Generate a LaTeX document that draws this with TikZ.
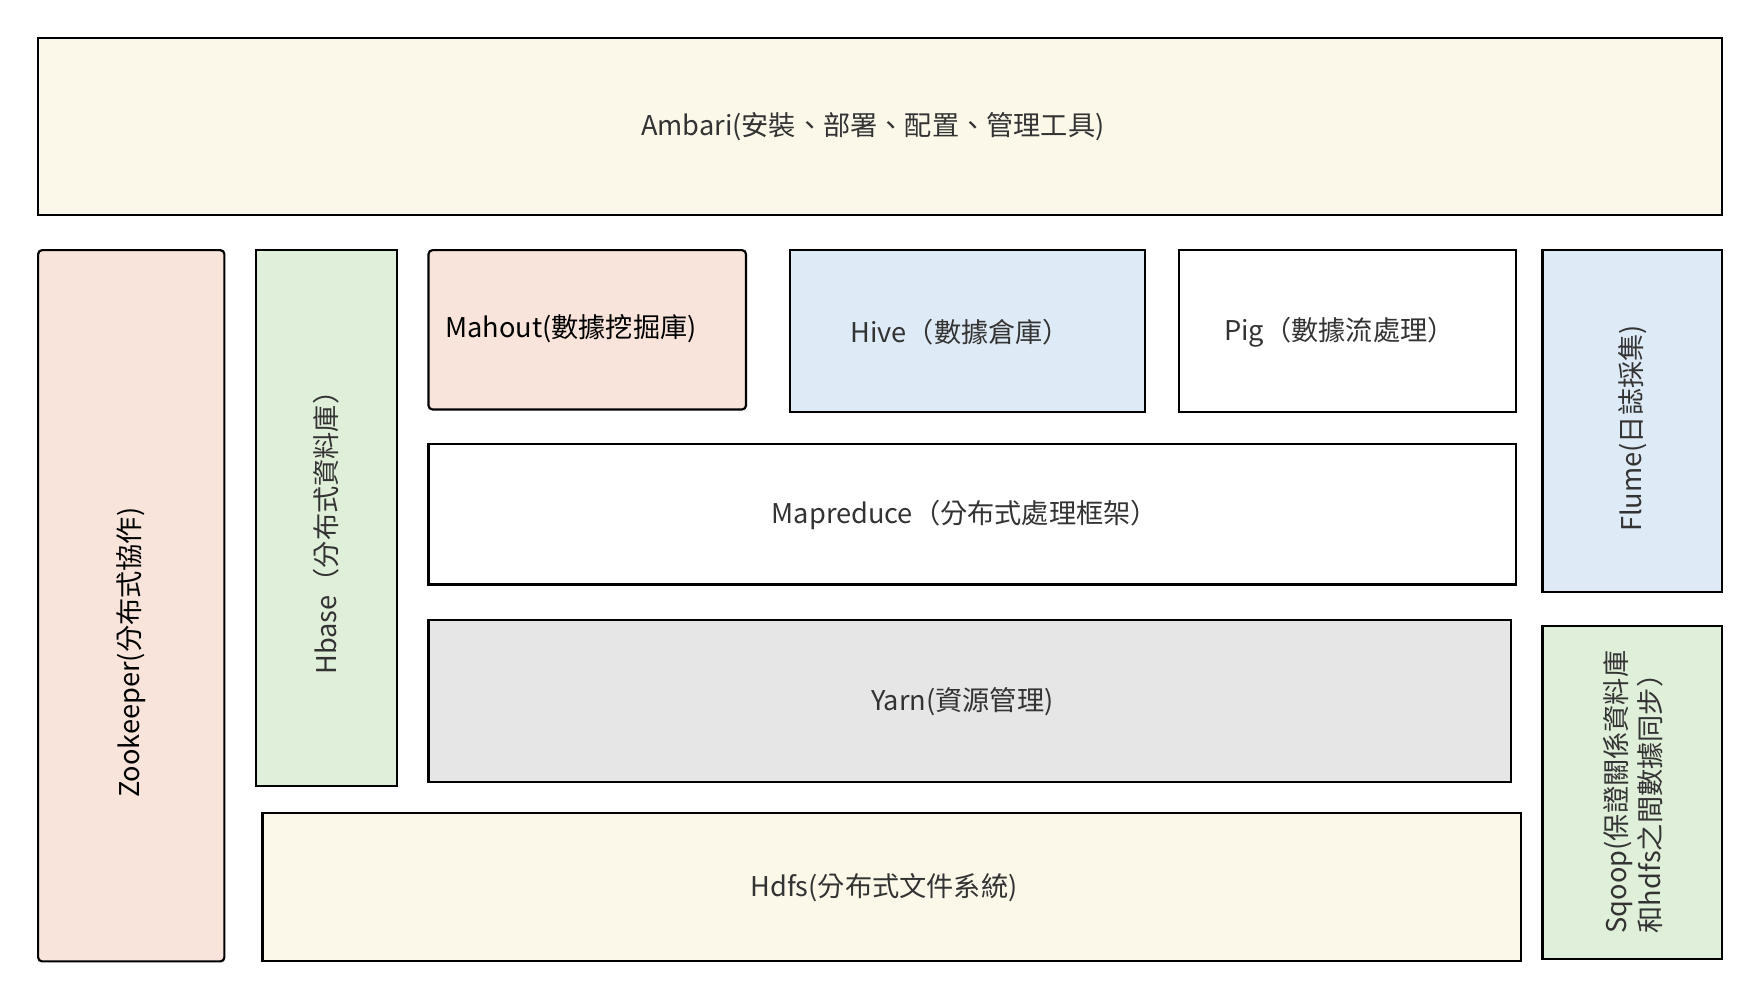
\documentclass[tikz,border=0pt]{standalone}
\usepackage{fontspec}
\setmainfont{Noto Sans CJK TC}
\definecolor{cream}{HTML}{FBF8EA}
\definecolor{peach}{HTML}{F8E4DA}
\definecolor{mint}{HTML}{E0EFDA}
\definecolor{skyb}{HTML}{DEEAF5}
\definecolor{greyb}{HTML}{E6E6E6}
\definecolor{txt}{HTML}{333333}
\tikzset{
  box/.style={draw=black, line width=1.1pt, anchor=north west, inner sep=0pt, outer sep=0pt},
  lbl/.style={text=txt, font=\fontsize{13.8pt}{16pt}\selectfont, inner sep=0pt},
  lblk/.style={text=black, font=\fontsize{13.8pt}{16pt}\selectfont, inner sep=0pt},
}
\newcommand{\bx}[7]{% name, x1, y1, x2, y2, fill, extra
  \node[box, fill=#6, minimum width=(#4-#2)*0.02cm, minimum height=(#5-#3)*0.02cm, #7] (#1) at (#2,#3) {};}
\begin{document}
\begin{tikzpicture}[x=0.02cm,y=-0.02cm]
\useasboundingbox[fill=white] (0,0) rectangle (1568,891);
\bx{ambari}{34}{34}{1535}{192}{cream}{}
\bx{zoo}{34}{223}{200}{857}{peach}{rounded corners=2pt}
\bx{hbase}{228}{223}{354}{701}{mint}{}
\bx{mahout}{382}{223}{665}{365}{peach}{rounded corners=2pt}
\bx{hive}{704}{223}{1021}{367}{skyb}{}
\bx{pig}{1051}{223}{1351}{367}{white}{}
\bx{flume}{1375}{223}{1535}{528}{skyb}{}
\bx{mapr}{382}{396}{1351}{521}{white}{}
\bx{yarn}{382}{553}{1347}{697}{greyb}{}
\bx{hdfs}{234}{725}{1356}{857}{cream}{}
\bx{sqoop}{1375}{558}{1535}{855}{mint}{}
\node[lbl] (tambari) at (778,113) {Ambari(安裝、部署、配置、管理工具)};
\node[lblk, rotate=90] (tzoo) at (117,582) {Zookeeper(分布式協作)};
\node[lbl, rotate=90] (thbase) at (291,469) {Hbase（分布式資料庫）};
\node[lblk] (tmahout) at (509,293) {Mahout(數據挖掘庫)};
\node[lbl] (thive) at (856,296) {Hive（數據倉庫）};
\node[lbl] (tpig) at (1194,296) {Pig（數據流處理）};
\node[lbl, rotate=90] (tflume) at (1455,382) {Flume(日誌採集)};
\node[lbl] (tmapr) at (860,459) {Mapreduce（分布式處理框架）};
\node[lbl] (tyarn) at (858,625) {Yarn(資源管理)};
\node[lbl] (thdfs) at (788,791) {Hdfs(分布式文件系統)};
\node[lbl, rotate=90, align=left, font=\fontsize{13.8pt}{17pt}\selectfont] (tsqoop) at (1456,706) {Sqoop(保證關係資料庫\\和hdfs之間數據同步）};
\end{tikzpicture}
\end{document}
